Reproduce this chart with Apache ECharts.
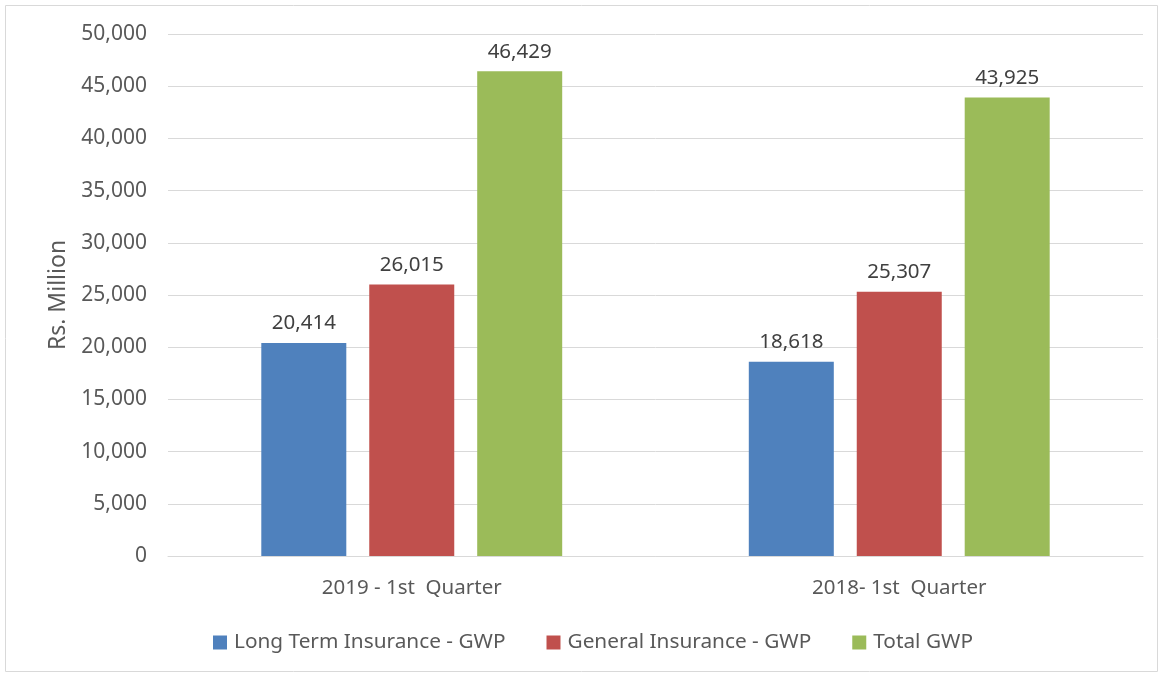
<!DOCTYPE html>
<html><head><meta charset="utf-8">
<script src="https://cdn.jsdelivr.net/npm/echarts@6/dist/echarts.min.js"></script>
<style>html,body{margin:0;padding:0;background:#fff}#c{width:1162px;height:675px}</style>
</head><body><div id="c"></div>
<script>
const categories = ["2019 - 1st  Quarter", "2018- 1st  Quarter"];
const seriesNames = ["Long Term Insurance - GWP", "General Insurance - GWP", "Total GWP"];
const longTerm = [20414, 18618];
const general = [26015, 25307];
const total = [46429, 43925];
const colors = ["#4F81BD", "#C0504D", "#9BBB59"];
const yTicks = {min: 0, max: 50000, interval: 5000};

const font = "Noto Sans";
const fmt = v => v.toLocaleString('en-US');
const chart = echarts.init(document.getElementById('c'), null, {renderer: 'canvas'});
const vals = [longTerm, general, total];
chart.setOption({
  animation: false,
  textStyle: {fontFamily: font},
  graphic: [{type: 'rect', shape: {x: 5.5, y: 5.5, width: 1152, height: 666}, style: {fill: 'none', stroke: '#d9d9d9', lineWidth: 1}, silent: true}],
  grid: {left: 168, right: 19, top: 34, bottom: 119},
  legend: {
    top: 627, left: 208, itemWidth: 14, itemHeight: 14, itemGap: 41,
    icon: 'rect',
    textStyle: {fontFamily: font, fontSize: 20.8, color: '#595959', padding: [0, 0, 0, 2]},
    data: seriesNames
  },
  xAxis: {
    type: 'category', data: categories,
    axisLine: {lineStyle: {color: '#d9d9d9', width: 1}},
    axisTick: {show: false},
    axisLabel: {fontFamily: font, fontSize: 20.5, color: '#595959', margin: 22}
  },
  yAxis: {
    type: 'value', min: yTicks.min, max: yTicks.max, interval: yTicks.interval,
    name: 'Rs. Million', nameLocation: 'middle', nameGap: 98, nameRotate: 90,
    nameTextStyle: {fontFamily: font, fontSize: 23, color: '#595959'},
    axisLine: {show: false}, axisTick: {show: false},
    axisLabel: {fontFamily: font, fontSize: 21, color: '#595959', margin: 21, formatter: fmt},
    splitLine: {lineStyle: {color: '#d9d9d9', width: 1}}
  },
  series: seriesNames.map((n, i) => ({
    name: n, type: 'bar', data: vals[i],
    barWidth: 85, barGap: '27%',
    itemStyle: {color: colors[i]},
    label: {show: true, position: 'top', distance: 9, formatter: p => fmt(p.value),
      fontFamily: font, fontSize: 20.5, color: '#404040'}
  }))
});
</script></body></html>
